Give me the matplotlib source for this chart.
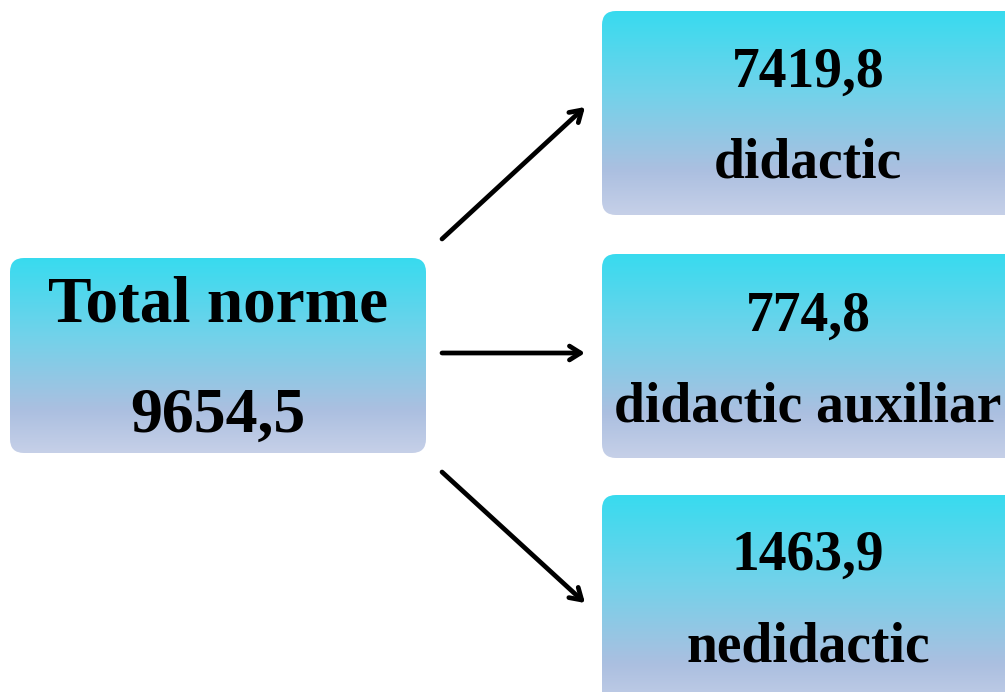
import numpy as np
import matplotlib.pyplot as plt
from matplotlib.patches import FancyBboxPatch
from matplotlib.colors import LinearSegmentedColormap

# data
total_label = "Total norme"
total_value = "9654,5"
part_values = ["7419,8", "774,8", "1463,9"]
part_labels = ["didactic", "didactic auxiliar", "nedidactic"]

W, H = 1005, 692
fig = plt.figure(figsize=(W / 100, H / 100), dpi=100)
ax = fig.add_axes([0, 0, 1, 1])
ax.set_xlim(0, W)
ax.set_ylim(H, 0)
ax.axis("off")

cmap = LinearSegmentedColormap.from_list(
    "box", [(0, "#38dbef"), (0.4, "#72d2ea"), (0.78, "#abbfe0"), (1, "#c6d0e8")])
grad = np.linspace(0, 1, 256).reshape(-1, 1)


def gradient_box(x0, y0, x1, y1, r=14):
    patch = FancyBboxPatch((x0 + r, y0 + r), (x1 - x0) - 2 * r, (y1 - y0) - 2 * r,
                           boxstyle=f"round,pad={r},rounding_size={r}",
                           facecolor="none", edgecolor="none")
    ax.add_patch(patch)
    im = ax.imshow(grad, cmap=cmap, aspect="auto", extent=(x0, x1, y1, y0),
                   interpolation="bilinear", zorder=1)
    im.set_clip_path(patch)


font = dict(family="Liberation Serif", fontweight="bold", color="black",
            ha="center", va="baseline", zorder=3)

# left box
gradient_box(10, 258, 426, 453)
ax.text(218, 322, total_label, fontsize=47, **font)
ax.text(218, 432, total_value, fontsize=46, **font)

# right boxes
boxes_y = [(11, 215), (254, 458), (495, 712)]
value_y = [87, 331, 570]
label_y = [178, 421, 662]
for (y0, y1), v, lab, vy, ly in zip(boxes_y, part_values, part_labels, value_y, label_y):
    gradient_box(602, y0, 1025, y1)
    ax.text(808, vy, v, fontsize=40, **font)
    ax.text(808, ly, lab, fontsize=40, **font)

# arrows
arrow_targets = [((442, 239), (585, 107)), ((442, 353), (585, 353)), ((442, 472), (585, 603))]
for start, end in arrow_targets:
    ax.annotate("", xy=end, xytext=start,
                arrowprops=dict(arrowstyle="->,head_length=0.8,head_width=0.5",
                                lw=3.4, color="black", shrinkA=0, shrinkB=0))

fig.savefig("out.png", dpi=100)
